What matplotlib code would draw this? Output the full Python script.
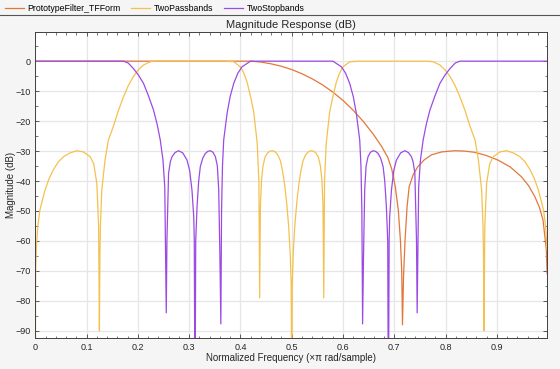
import matplotlib
matplotlib.use("Agg")
import matplotlib.pyplot as plt
from matplotlib.lines import Line2D
from matplotlib.ticker import MultipleLocator

plt.rcParams['font.family'] = ['Liberation Sans', 'DejaVu Sans']

# Prototype lowpass (orange)
proto_f = [0.0, 0.2, 0.38, 0.42, 0.44, 0.46, 0.48, 0.50, 0.52, 0.54, 0.56,
           0.58, 0.60, 0.62, 0.64, 0.66, 0.675, 0.687, 0.695, 0.702, 0.708,
           0.712, 0.7145, 0.716, 0.718, 0.721, 0.725, 0.729, 0.737, 0.746, 0.758,
           0.772, 0.792, 0.817, 0.836, 0.856, 0.878, 0.902, 0.926, 0.948, 0.962,
           0.974, 0.983, 0.990, 0.9965, 0.998]
proto_db = [0.0, 0.0, 0.0, 0.0, -0.3, -0.9, -1.7, -2.8, -4.2, -5.9, -7.9,
            -10.3, -13.1, -16.4, -20.2, -24.6, -28.4, -32.0, -36.0, -42.0, -50.0,
            -60.0, -70.0, -88.0, -72.0, -59.7, -48.5, -41.9, -37.8, -35.2, -33.0,
            -31.3, -30.3, -29.9, -30.0, -30.4, -31.4, -33.0, -35.3, -38.6, -41.6,
            -45.2, -48.8, -53.0, -63.0, -71.0]

# Two passbands (yellow)
pass_f = [0.0, 0.0005, 0.001, 0.0025, 0.005, 0.009, 0.019, 0.027, 0.035, 0.045,
          0.055, 0.068, 0.081, 0.094, 0.107, 0.114, 0.120, 0.1235, 0.125, 0.126,
          0.127, 0.1297, 0.136, 0.1426, 0.152, 0.162, 0.172, 0.181, 0.191, 0.201,
          0.211, 0.224, 0.235, 0.37, 0.387, 0.400, 0.407, 0.413, 0.420, 0.426,
          0.4327, 0.436, 0.4375, 0.439, 0.441, 0.444, 0.448, 0.453, 0.458, 0.463,
          0.468, 0.473, 0.478, 0.482, 0.486, 0.490, 0.494, 0.497, 0.499, 0.5,
          0.501, 0.503, 0.506, 0.510, 0.514, 0.518, 0.522, 0.527, 0.532, 0.537,
          0.542, 0.547, 0.552, 0.556, 0.559, 0.561, 0.5625, 0.564, 0.5673, 0.574,
          0.580, 0.587, 0.593, 0.600, 0.613, 0.63, 0.765, 0.776, 0.789, 0.799,
          0.809, 0.819, 0.828, 0.838, 0.848, 0.8574, 0.864, 0.8703, 0.873, 0.874,
          0.875, 0.8765, 0.880, 0.886, 0.893, 0.906, 0.919, 0.932, 0.945, 0.955,
          0.965, 0.973, 0.981, 0.991, 0.995, 0.998]
pass_db = [-120.0, -75.0, -68.0, -61.0, -55.0, -49.7, -43.0, -39.2, -36.3, -33.6,
           -31.9, -30.6, -29.9, -30.3, -31.9, -34.3, -40.8, -55.0, -90.0, -65.0,
           -55.0, -43.0, -33.0, -26.3, -21.9, -16.5, -11.9, -8.3, -5.2, -2.9,
           -1.3, -0.2, 0.0, 0.0, -0.2, -1.9, -4.1, -7.0, -12.0, -17.0,
           -27.4, -40.0, -79.0, -48.0, -40.0, -35.0, -32.0, -30.6, -30.0, -29.9,
           -30.3, -31.3, -33.3, -36.5, -41.0, -47.0, -55.0, -64.0, -75.0, -120.0,
           -75.0, -64.0, -55.0, -47.0, -41.0, -36.5, -33.3, -31.3, -30.3, -29.9,
           -30.0, -30.6, -32.0, -35.0, -40.0, -48.0, -79.0, -40.0, -27.4, -17.0,
           -12.0, -7.0, -4.1, -1.9, -0.2, 0.0, 0.0, -0.2, -1.3, -2.9,
           -5.2, -8.3, -11.9, -16.5, -21.9, -26.3, -33.0, -43.0, -55.0, -65.0,
           -90.0, -55.0, -40.8, -34.3, -31.9, -30.3, -29.9, -30.6, -31.9, -33.6,
           -36.3, -39.2, -43.0, -49.7, -55.0, -63.0]

# Two stopbands (purple)
stop_f = [0.0, 0.172, 0.181, 0.191, 0.201, 0.211, 0.2205, 0.2305, 0.2375, 0.2437,
          0.249, 0.2525, 0.2554, 0.2567, 0.2599, 0.2633, 0.2666, 0.2725, 0.2794,
          0.2875, 0.2958, 0.301, 0.3055, 0.309, 0.310, 0.3115, 0.3128, 0.3154,
          0.3186, 0.3218, 0.3265, 0.3316, 0.3365, 0.3414, 0.3465, 0.3512, 0.355,
          0.3577, 0.360, 0.3618, 0.3632, 0.365, 0.3674, 0.374, 0.380, 0.387,
          0.395, 0.403, 0.4196, 0.5804, 0.597, 0.605, 0.613, 0.620, 0.626, 0.6326,
          0.635, 0.6368, 0.6382, 0.640, 0.6423, 0.645, 0.6488, 0.6535, 0.6586,
          0.6635, 0.6684, 0.6735, 0.6782, 0.6814, 0.6846, 0.6872, 0.6885, 0.690,
          0.691, 0.6945, 0.699, 0.7042, 0.7125, 0.7206, 0.7275, 0.7334, 0.7367,
          0.7401, 0.7433, 0.7446, 0.7475, 0.751, 0.7563, 0.7625, 0.7695, 0.7795,
          0.789, 0.799, 0.809, 0.819, 0.828, 0.998]
stop_db = [0.0, 0.0, -0.6, -2.4, -4.6, -7.4, -11.5, -16.3, -21.0, -26.3,
           -33.0, -42.0, -84.0, -59.7, -37.4, -33.6, -31.9, -30.5, -29.9,
           -30.6, -33.0, -36.5, -43.0, -52.0, -59.7, -120.0, -60.0, -48.6,
           -40.0, -35.2, -32.4, -30.8, -30.1, -29.9, -30.4, -31.9, -35.0,
           -43.0, -65.0, -87.7, -50.0, -35.0, -26.3, -17.4, -11.8, -7.4,
           -4.0, -1.9, 0.0, 0.0, -1.9, -4.0, -7.4, -11.8, -17.4, -26.3,
           -35.0, -50.0, -87.7, -65.0, -43.0, -35.0, -31.9, -30.4, -29.9,
           -30.1, -30.8, -32.4, -35.2, -40.0, -48.6, -60.0, -120.0, -59.7,
           -52.0, -43.0, -36.5, -33.0, -30.6, -29.9, -30.5, -31.9, -33.6,
           -37.4, -59.7, -84.0, -42.0, -33.0, -26.3, -21.0, -16.3, -11.5,
           -7.4, -4.6, -2.4, -0.6, 0.0, 0.0]

names = ['PrototypeFilter_TFForm', 'TwoPassbands', 'TwoStopbands']
colors = ['#E3773A', '#F4C150', '#9B4BE3']

fig = plt.figure(figsize=(5.6, 3.69), dpi=100, facecolor='#f5f5f5')
ax = fig.add_axes([0.063, 0.084, 0.914, 0.829])
ax.set_facecolor('white')

l1, = ax.plot(proto_f, proto_db, color=colors[0], lw=0.9)
l2, = ax.plot(pass_f, pass_db, color=colors[1], lw=0.9)
l3, = ax.plot(stop_f, stop_db, color=colors[2], lw=0.9)

ax.set_xlim(0, 0.998)
ax.set_ylim(-92.4, 9.7)
ax.set_xticks([0, 0.1, 0.2, 0.3, 0.4, 0.5, 0.6, 0.7, 0.8, 0.9])
ax.set_xticklabels(['0', '0.1', '0.2', '0.3', '0.4', '0.5', '0.6', '0.7', '0.8', '0.9'])
ax.set_yticks(range(-90, 1, 10))
ax.xaxis.set_minor_locator(MultipleLocator(0.02))
ax.yaxis.set_minor_locator(MultipleLocator(5))
ax.tick_params(which='both', direction='in', top=True, right=True,
               colors='#404040', labelcolor='#262626', labelsize=6.5)
ax.tick_params(which='major', length=3, width=0.6)
ax.tick_params(which='minor', length=1.8, width=0.5)
ax.grid(True, which='major', color='#e6e6e6', lw=0.9)
ax.set_axisbelow(True)
for s in ax.spines.values():
    s.set_color('#404040')
    s.set_linewidth(0.7)

ax.set_title('Magnitude Response (dB)', fontsize=8, color='#262626', pad=3)
ax.set_xlabel('Normalized Frequency (\u00d7\u03c0 rad/sample)', fontsize=7, color='#262626', labelpad=1)
ax.set_ylabel('Magnitude (dB)', fontsize=7, color='#262626')
ax.yaxis.set_label_coords(-0.037, 0.5)

fig.legend([l1, l2, l3], names, loc='upper left', bbox_to_anchor=(-0.006, 1.01),
           ncol=3, frameon=False, fontsize=6.3, handlelength=2.2,
           handletextpad=0.4, columnspacing=1.2)
fig.add_artist(Line2D([0, 1], [0.959, 0.959], transform=fig.transFigure,
                      color='#555555', lw=0.8))

fig.savefig('out.png', dpi=100, facecolor=fig.get_facecolor())
